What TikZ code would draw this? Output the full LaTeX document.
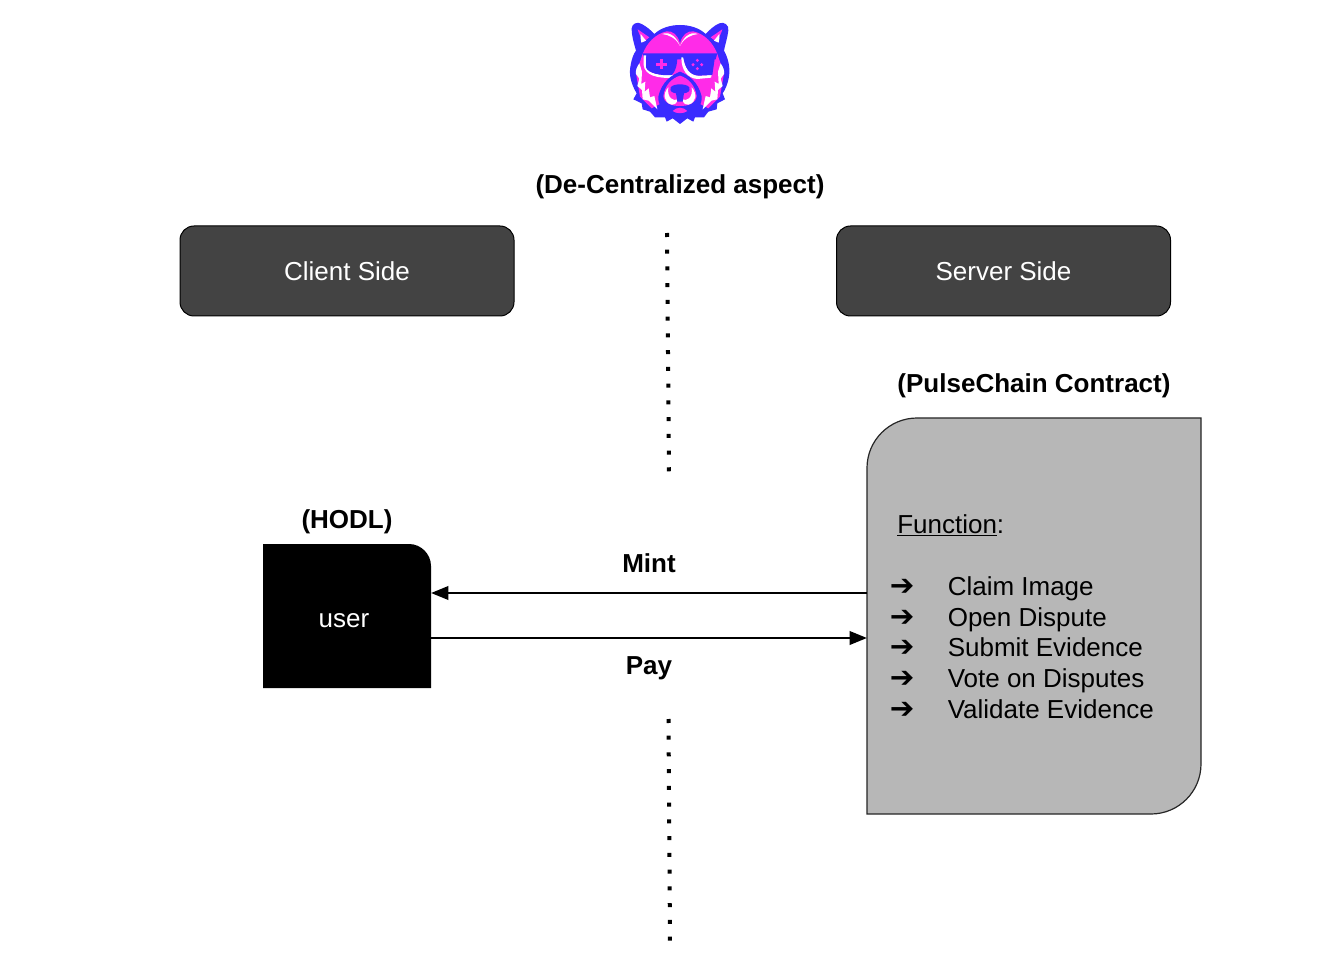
\documentclass[tikz,border=0pt]{standalone}
\usepackage{fontspec}
\setmainfont{Liberation Sans}
\newfontfamily\arrowfont{DejaVu Sans}
\usetikzlibrary{arrows.meta}
\definecolor{darkbox}{HTML}{434343}
\definecolor{greybox}{HTML}{B7B7B7}
\definecolor{bearblue}{HTML}{3A2BFF}
\definecolor{bearpink}{HTML}{FF2BE8}
\tikzset{
  label text/.style={font=\fontsize{19.5pt}{22pt}\selectfont\bfseries,anchor=base,inner sep=0pt},
  body text/.style={font=\fontsize{19.5pt}{22pt}\selectfont,anchor=base west,inner sep=0pt},
  side box/.style={draw=black,fill=darkbox,line width=0.75pt,rounded corners=10.5pt,minimum width=250.5pt,minimum height=67.5pt,inner sep=0pt,text=white,font=\fontsize{19.5pt}{22pt}\selectfont},
  hold box/.style={minimum width=126pt,minimum height=108pt,inner sep=0pt,outer sep=0pt},
  contract box/.style={minimum width=250.5pt,minimum height=297pt,inner sep=0pt,outer sep=0pt},
  flow/.style={line width=1.95pt,-{Triangle[length=13pt,width=10pt]}},
  divider/.style={line width=3pt,dash pattern=on 3pt off 9.55pt},
}
\begin{document}
\begin{tikzpicture}[x=0.75pt,y=-0.75pt]
\useasboundingbox (0,0) rectangle (1336,966);
\fill[white] (0,0) rectangle (1336,966);

% logo
\begin{scope}[shift={(600,10)},xscale=1/3,yscale=1/3]
  \fill[bearblue] (95,55) .. controls (95,42) and (112,33) .. (125,42) .. controls (140,50) and (152,60) .. (163,72)
    .. controls (200,36) and (280,36) .. (317,72) .. controls (330,58) and (345,45) .. (358,40)
    .. controls (372,34) and (388,45) .. (385,62) .. controls (382,85) and (375,105) .. (372,122)
    .. controls (385,145) and (392,175) .. (386,205) .. controls (382,225) and (375,240) .. (368,250)
    -- (375,268) -- (352,280) -- (350,298) -- (325,305) -- (312,322) -- (285,322) -- (280,335)
    -- (262,325) -- (240,342) -- (218,325) -- (200,335) -- (195,322) -- (165,322) -- (150,305)
    -- (128,298) -- (125,280) -- (100,268) -- (110,250) .. controls (95,225) and (85,195) .. (92,165)
    .. controls (95,148) and (100,132) .. (108,122) .. controls (102,100) and (95,80) .. (95,55) -- cycle;
  % ears
  \fill[bearpink] (113,58) -- (148,82) -- (130,96) .. controls (122,80) and (116,70) .. (113,58) -- cycle;
  \fill[white] (122,72) -- (138,92) -- (124,98) .. controls (122,90) and (121,80) .. (122,72) -- cycle;
  \fill[bearpink] (367,58) -- (332,82) -- (350,96) .. controls (358,80) and (364,70) .. (367,58) -- cycle;
  \fill[white] (358,72) -- (342,92) -- (356,98) .. controls (358,90) and (359,80) .. (358,72) -- cycle;
  % face
  \fill[bearpink] (128,132) .. controls (140,100) and (165,72) .. (200,64) .. controls (218,62) and (234,75) .. (240,100)
    .. controls (246,75) and (262,62) .. (280,64) .. controls (315,72) and (340,100) .. (352,132)
    -- (372,190) -- (360,260) -- (325,295) -- (240,250) -- (155,295) -- (120,260) -- (108,190) -- cycle;
  \fill[white] (240,108) .. controls (232,86) and (212,62) .. (186,72) .. controls (206,74) and (228,84) .. (240,108) -- cycle;
  \fill[white] (240,108) .. controls (248,86) and (268,62) .. (294,72) .. controls (274,74) and (252,84) .. (240,108) -- cycle;
  \fill[white] (118,160) .. controls (110,172) and (106,182) .. (108,192) -- (118,206) -- (112,228) -- (126,240) -- (128,268)
    -- (146,272) -- (172,298) -- (163,258) -- (150,262) -- (146,235) -- (134,245) -- (136,215) -- (124,222) -- (126,185) -- cycle;
  \fill[white] (362,160) .. controls (370,172) and (374,182) .. (372,192) -- (362,206) -- (368,228) -- (354,240) -- (352,268)
    -- (334,272) -- (308,298) -- (317,258) -- (330,262) -- (334,235) -- (346,245) -- (344,215) -- (356,222) -- (354,185) -- cycle;
  % glasses
  \fill[bearblue] (128,130) -- (352,130) -- (347,148) -- (133,148) -- cycle;
  \fill[white] (131,136) -- (138,136) -- (138,172) .. controls (144,190) and (175,197) .. (228,195) -- (225,203)
    .. controls (170,207) and (134,195) .. (131,165) -- cycle;
  \fill[white] (244,142) -- (250,142) .. controls (254,172) and (268,196) .. (296,197) -- (335,195) -- (333,203)
    -- (292,207) .. controls (262,205) and (244,180) .. (244,142) -- cycle;
  \fill[bearblue] (138,140) -- (232,140) .. controls (232,165) and (226,186) .. (215,195)
    .. controls (185,198) and (144,190) .. (138,172) -- cycle;
  \fill[bearblue] (250,140) -- (345,140) -- (337,195) -- (296,197) .. controls (268,196) and (254,172) .. (250,140) -- cycle;
  \fill[bearpink] (181,148) rectangle (189,178);
  \fill[bearpink] (168,159) rectangle (202,167);
  \foreach \dx/\dy in {292/151,292/176,279/164,305/164} \fill[bearpink] (\dx,\dy) circle (5);
  % muzzle
  \fill[bearblue] (240,185) .. controls (215,195) and (185,215) .. (175,260) .. controls (172,280) and (190,318) .. (240,325)
    .. controls (290,318) and (308,280) .. (305,260) .. controls (295,215) and (265,195) .. (240,185) -- cycle;
  \fill[bearpink] (240,197) .. controls (215,205) and (195,225) .. (190,258) .. controls (192,280) and (215,288) .. (240,288)
    .. controls (265,288) and (288,280) .. (290,258) .. controls (285,225) and (265,205) .. (240,197) -- cycle;
  \fill[white] (205,232) .. controls (188,250) and (190,278) .. (215,284) .. controls (226,284) and (232,278) .. (232,268)
    .. controls (222,275) and (200,265) .. (205,232) -- cycle;
  \fill[white] (275,232) .. controls (292,250) and (290,278) .. (265,284) .. controls (254,284) and (248,278) .. (248,268)
    .. controls (258,275) and (280,265) .. (275,232) -- cycle;
  \fill[bearblue] (212,232) .. controls (220,220) and (260,220) .. (268,232) .. controls (272,245) and (262,248) .. (252,250)
    -- (248,275) -- (232,275) -- (228,250) .. controls (218,248) and (208,245) .. (212,232) -- cycle;
  \fill[bearpink] (218,303) .. controls (230,290) and (250,290) .. (262,303) .. controls (250,312) and (230,312) .. (218,303) -- cycle;
\end{scope}

% shapes behind the named nodes
\fill[black] (263,544) -- (409,544) .. controls (421,544) and (431,554) .. (431,566) -- (431,688) -- (263,688) -- cycle;
\draw[fill=greybox,draw=black!85,line width=0.9pt] (917,418) -- (1201,418) -- (1201,764)
  .. controls (1201,791.6) and (1178.6,814) .. (1151,814) -- (867,814) -- (867,468)
  .. controls (867,440.4) and (889.4,418) .. (917,418) -- cycle;

\node[label text] (title) at (680,194) {(De-Centralized aspect)};
\node[side box] (client) at (347,271) {Client Side};
\node[side box] (server) at (1003.5,271) {Server Side};
\node[label text] (chain) at (1034,392.5) {(PulseChain Contract)};
\node[label text] (hodl) at (347,528) {(HODL)};
\node[hold box] (user) at (347,616) {};
\node[label text,font=\fontsize{19.5pt}{22pt}\selectfont,text=white] (userlabel) at (344,627) {user};
\node[contract box] (contract) at (1034,616) {};

\node[body text] (fn) at (897,533) {\underline{Function}:};
\foreach \name/\base/\txt in {a/595/Claim Image,b/626/Open Dispute,c/656/Submit Evidence,d/687/Vote on Disputes,e/718/Validate Evidence}{
  \node[body text,font=\fontsize{22pt}{24pt}\selectfont] (arrow\name) at (889.5,\base) {\arrowfont\bfseries ➔};
  \node[body text] (item\name) at (947.5,\base) {\txt};
}

\coordinate (dotsTopA) at (667,233);
\coordinate (dotsTopB) at (669,473);
\coordinate (dotsLowA) at (668.5,719);
\coordinate (dotsLowB) at (670,942);
\draw[divider] (dotsTopA) -- (dotsTopB);
\draw[divider] (dotsLowA) -- (dotsLowB);

\draw[flow] ([yshift=17.25pt]contract.west) -- node[label text,pos=0.5,yshift=15.75pt] (mint) {Mint} ([yshift=17.25pt]user.east);
\draw[flow] ([yshift=-16.5pt]user.east) -- node[label text,pos=0.5,yshift=-27pt] (pay) {Pay} ([yshift=-16.5pt]contract.west);
\end{tikzpicture}
\end{document}
